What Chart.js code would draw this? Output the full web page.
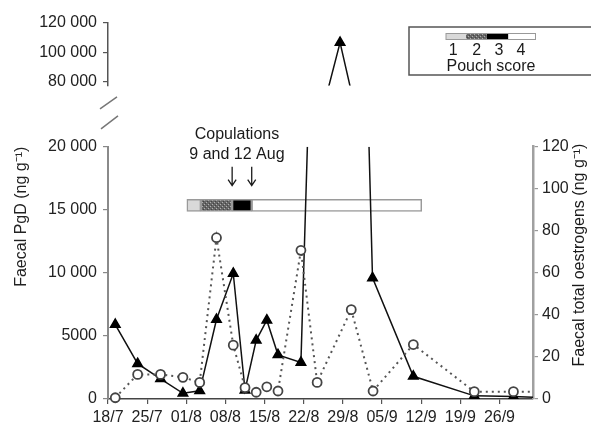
<!DOCTYPE html>
<html>
<head>
<meta charset="utf-8">
<script src="https://cdn.jsdelivr.net/npm/chart.js@4/dist/chart.umd.min.js"></script>
<style>
  html, body { margin: 0; padding: 0; background: #fff; }
  #wrap { width: 591px; height: 428px; position: relative; }
</style>
</head>
<body>
<div id="wrap"><canvas id="myChart"></canvas></div>
<script>
// x values are days counted from 18 July
let tickDays = [0, 7, 14, 21, 28, 35, 42, 49, 56, 63, 70];
let tickLabels = ['18/7', '25/7', '01/8', '08/8', '15/8', '22/8', '29/8', '05/9', '12/9', '19/9', '26/9'];

let pgdDays = [1.3, 5.3, 9.4, 13.4, 16.4, 19.4, 22.4, 24.5, 26.5, 28.4, 30.4, 34.5, 41.5, 47.3, 54.6, 65.5, 72.5, 79];
let pgdValues = [5900, 2800, 1600, 450, 650, 6300, 9950, 700, 4650, 6250, 3500, 2900, 106600, 9600, 1800, 250, 200, 100];

let oeDays = [1.3, 5.3, 9.4, 13.4, 16.4, 19.4, 22.4, 24.5, 26.5, 28.4, 30.4, 34.5, 37.4, 43.5, 47.4, 54.6, 65.5, 72.5, 79];
let oeValues = [0.6, 11.7, 11.7, 10.3, 7.9, 76.7, 25.6, 5.4, 3.2, 5.8, 3.8, 70.7, 7.9, 42.5, 3.8, 25.9, 3.5, 3.5, 3.5];

let copulationDays = [22.2, 25.7];
let pouchStart = [14.1, 16.6, 22.2, 25.7];
let pouchEnd = [16.6, 22.2, 25.7, 56.1];
let pouchLevel = 15350; // height of the pouch bar on the PgD scale

let lowTicks = [0, 5000, 10000, 15000, 20000];
let lowTickLabels = ['0', '5000', '10 000', '15 000', '20 000'];
let highTicks = [80000, 100000, 120000];
let highTickLabels = ['80 000', '100 000', '120 000'];
let oeTicks = [0, 20, 40, 60, 80, 100, 120];

Chart.defaults.font.family = "'Liberation Sans', Arial, sans-serif";
Chart.defaults.font.size = 16;
Chart.defaults.color = '#222';

let ctx = document.getElementById('myChart').getContext('2d');

function stipple(c) {
  let cv = document.createElement('canvas');
  cv.width = 4; cv.height = 4;
  let g = cv.getContext('2d');
  g.fillStyle = '#666';
  g.fillRect(0, 0, 4, 4);
  g.fillStyle = '#b0b0b0';
  g.fillRect(0, 0, 1, 1);
  g.fillRect(2, 2, 1, 1);
  g.fillStyle = '#444';
  g.fillRect(1, 3, 1, 1);
  g.fillRect(3, 1, 1, 1);
  return c.createPattern(cv, 'repeat');
}
let dots = stipple(ctx);
let pouchColors = ['#d9d9d9', dots, '#000', '#fff'];

function fixTicks(values) {
  return (scale) => { scale.ticks = values.map(v => ({ value: v })); };
}
function fixWidth(w) {
  return (scale) => { scale.width = w; };
}

// keep each PgD dataset inside its own panel of the broken axis
let panelClip = {
  id: 'panelClip',
  beforeDatasetDraw(chart, args) {
    let ds = chart.data.datasets[args.index];
    if (!ds.panel) return;
    let s = chart.scales[ds.yAxisID];
    let a = chart.chartArea;
    let top = ds.panel === 'high' ? s.top - 10 : s.top;
    let bottom = ds.panel === 'high' ? s.bottom : s.bottom + 10;
    chart.ctx.save();
    chart.ctx.beginPath();
    chart.ctx.rect(a.left - 10, top, a.right - a.left + 10, bottom - top);
    chart.ctx.clip();
  },
  afterDatasetDraw(chart, args) {
    if (chart.data.datasets[args.index].panel) chart.ctx.restore();
  }
};

let extras = {
  id: 'extras',
  afterDraw(chart) {
    let c = chart.ctx;
    let x = chart.scales.x;
    let low = chart.scales.yLow;
    let gap = chart.scales.yGap;
    let a = chart.chartArea;
    c.save();
    c.fillStyle = '#1a1a1a';
    c.font = "16px 'Liberation Sans', Arial, sans-serif";
    c.textAlign = 'center';
    c.textBaseline = 'middle';

    // copulations
    let px = copulationDays.map(d => x.getPixelForValue(d));
    let mid = (px[0] + px[1]) / 2 - 5;
    c.fillText('Copulations', mid, low.top - 12);
    c.fillText('9 and 12 Aug', mid, low.top + 8);
    c.strokeStyle = '#1a1a1a';
    c.lineWidth = 1.3;
    px.forEach(p => {
      c.beginPath();
      c.moveTo(p, low.top + 20);
      c.lineTo(p, low.top + 39);
      c.moveTo(p - 4, low.top + 33);
      c.lineTo(p, low.top + 39);
      c.lineTo(p + 4, low.top + 33);
      c.stroke();
    });

    // axis break marks
    c.strokeStyle = '#777';
    c.lineWidth = 1.5;
    c.beginPath();
    c.moveTo(a.left - 8, gap.top + 23);
    c.lineTo(a.left + 9, gap.top + 11);
    c.moveTo(a.left - 7, gap.top + 43);
    c.lineTo(a.left + 10, gap.top + 30);
    c.stroke();

    // pouch score key
    c.strokeStyle = '#555';
    c.lineWidth = 1.5;
    c.strokeRect(409, 27, 200, 48);
    let kx = [446, 466, 486.7, 508.4, 535.5];
    for (let i = 0; i < 4; i++) {
      c.fillStyle = pouchColors[i];
      c.fillRect(kx[i], 33.5, kx[i + 1] - kx[i], 6);
    }
    c.strokeStyle = '#999';
    c.lineWidth = 1;
    c.strokeRect(446, 33.5, 89.5, 6);
    c.fillStyle = '#1a1a1a';
    ['1', '2', '3', '4'].forEach((t, i) => c.fillText(t, [453.3, 476.7, 499, 521][i], 51));
    c.fillText('Pouch score', 491, 67);

    // right axis title reads bottom to top
    c.translate(580, 255);
    c.rotate(-Math.PI / 2);
    c.fillText('Faecal total oestrogens (ng g\u207B\u00B9)', 0, 0);
    c.restore();
  }
};

let myChart = new Chart(ctx, {
  type: 'line',
  data: {
    datasets: [{
      label: 'Faecal total oestrogens',
      data: oeDays.map((d, i) => ({ x: d, y: oeValues[i] })),
      xAxisID: 'x',
      yAxisID: 'yR',
      borderColor: '#555',
      borderWidth: 2,
      borderDash: [2, 4],
      pointStyle: 'circle',
      pointRadius: 4.5,
      pointBackgroundColor: '#fff',
      pointBorderColor: '#444',
      pointBorderWidth: 1.8,
      clip: { left: 10, top: 10, right: 0, bottom: 10 },
      order: 0
    }, {
      label: 'Faecal PgD',
      panel: 'low',
      data: pgdDays.map((d, i) => ({ x: d, y: pgdValues[i] })),
      xAxisID: 'x',
      yAxisID: 'yLow',
      borderColor: '#111',
      borderWidth: 1.5,
      pointStyle: 'triangle',
      pointRadius: 5.5,
      pointBackgroundColor: '#000',
      pointBorderColor: '#000',
      order: 1
    }, {
      label: 'Faecal PgD (upper)',
      panel: 'high',
      data: pgdDays.map((d, i) => ({ x: d, y: pgdValues[i] })),
      xAxisID: 'x',
      yAxisID: 'yHigh',
      borderColor: '#111',
      borderWidth: 1.5,
      pointStyle: 'triangle',
      pointRadius: 5.5,
      pointBackgroundColor: '#000',
      pointBorderColor: '#000',
      order: 1
    }, {
      type: 'bar',
      label: 'Pouch score',
      indexAxis: 'y',
      xAxisID: 'x',
      yAxisID: 'yLow',
      data: pouchStart.map((s, i) => ({ x: [s, pouchEnd[i]], y: pouchLevel })),
      backgroundColor: pouchColors,
      borderColor: '#9a9a9a',
      borderWidth: 1.5,
      borderSkipped: false,
      barThickness: 12,
      grouped: false,
      order: 10
    }]
  },
  options: {
    responsive: true,
    maintainAspectRatio: false,
    animation: false,
    layout: { padding: { left: 8, top: 23, right: 0, bottom: 0 } },
    plugins: {
      legend: { display: false },
      tooltip: { enabled: false }
    },
    scales: {
      x: {
        type: 'linear',
        position: 'bottom',
        min: 0,
        max: 76,
        afterBuildTicks: fixTicks(tickDays),
        afterFit: (s) => { s.height = 29; },
        ticks: {
          callback: (v) => tickLabels[tickDays.indexOf(v)],
          padding: 4,
          maxRotation: 0,
          autoSkip: false
        },
        grid: { drawOnChartArea: false, tickLength: 5, color: '#555', lineWidth: 1.2 },
        border: { color: '#444', width: 1.5 }
      },
      yLow: {
        type: 'linear',
        position: 'left',
        stack: 'left',
        stackWeight: 253,
        min: 0,
        max: 20000,
        offset: false,
        afterBuildTicks: fixTicks(lowTicks),
        afterFit: fixWidth(100),
        ticks: { callback: (v) => lowTickLabels[lowTicks.indexOf(v)], padding: 6, autoSkip: false },
        grid: { offset: false, drawOnChartArea: false, tickLength: 5, color: '#888', lineWidth: 1.2 },
        border: { color: '#8a8a8a', width: 2 },
        title: { display: true, text: 'Faecal PgD (ng g\u207B\u00B9)', align: 'end', padding: { top: 4, bottom: 4 } }
      },
      yGap: {
        type: 'linear',
        position: 'left',
        stack: 'left',
        stackWeight: 61,
        afterFit: fixWidth(100),
        ticks: { display: false },
        grid: { display: false, drawTicks: false },
        border: { display: false }
      },
      yHigh: {
        type: 'linear',
        position: 'left',
        stack: 'left',
        stackWeight: 63,
        min: 77000,
        max: 120000,
        afterBuildTicks: fixTicks(highTicks),
        afterFit: fixWidth(100),
        ticks: { callback: (v) => highTickLabels[highTicks.indexOf(v)], padding: 6, autoSkip: false },
        grid: { drawOnChartArea: false, tickLength: 5, color: '#555', lineWidth: 1.2 },
        border: { color: '#555', width: 1.5 }
      },
      yRGap: {
        type: 'linear',
        position: 'right',
        stack: 'right',
        stackWeight: 124,
        afterFit: fixWidth(58),
        ticks: { display: false },
        grid: { display: false, drawTicks: false },
        border: { display: false }
      },
      yR: {
        type: 'linear',
        position: 'right',
        stack: 'right',
        stackWeight: 253,
        min: 0,
        max: 120,
        afterBuildTicks: fixTicks(oeTicks),
        afterFit: fixWidth(58),
        ticks: { padding: 4, autoSkip: false },
        grid: { drawOnChartArea: false, tickLength: 5, color: '#999', lineWidth: 1.2 },
        border: { color: '#a0a0a0', width: 2.5 }
      }
    }
  },
  plugins: [panelClip, extras]
});
</script>
</body>
</html>
